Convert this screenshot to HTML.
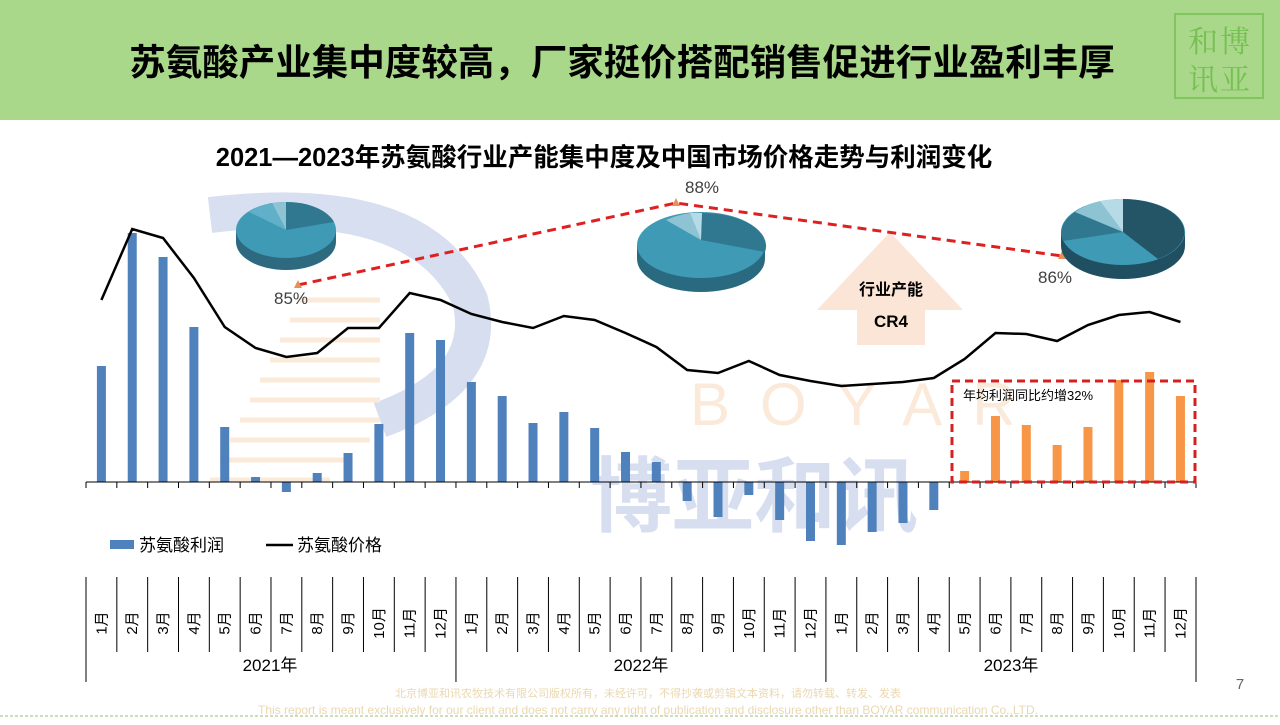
<!DOCTYPE html>
<html><head><meta charset="utf-8"><style>
body{margin:0;width:1280px;height:720px;overflow:hidden;background:#fff;font-family:"Liberation Sans","Noto Sans CJK SC",sans-serif}
</style></head><body>
<svg id="s" width="1280" height="720" xmlns="http://www.w3.org/2000/svg" font-family="Liberation Sans, Noto Sans CJK SC, sans-serif">
<rect x="0" y="0" width="1280" height="120" fill="#a9d88b"/>
<text x="622" y="75" font-size="36.5" font-weight="bold" text-anchor="middle" fill="#000">苏氨酸产业集中度较高，厂家挺价搭配销售促进行业盈利丰厚</text>
<g opacity="0.9">
<rect x="1175" y="14" width="88" height="84" fill="none" stroke="#7cc35a" stroke-width="2"/>
<text x="1218" y="52" font-size="30" fill="#72bd4e" text-anchor="end" font-family="Noto Serif CJK SC, serif">和</text>
<text x="1220" y="52" font-size="30" fill="#72bd4e" font-family="Noto Serif CJK SC, serif">博</text>
<text x="1218" y="90" font-size="30" fill="#72bd4e" text-anchor="end" font-family="Noto Serif CJK SC, serif">讯</text>
<text x="1220" y="90" font-size="30" fill="#72bd4e" font-family="Noto Serif CJK SC, serif">亚</text>
</g>
<text x="604" y="166" font-size="25.5" font-weight="bold" text-anchor="middle" fill="#000">2021—2023年苏氨酸行业产能集中度及中国市场价格走势与利润变化</text>
<!-- watermark -->
<g opacity="0.28">
<path d="M210 215 Q420 190 470 300 Q490 380 380 420" fill="none" stroke="#6f8cc8" stroke-width="36"/>
<g stroke="#f4b27a" stroke-width="5">
<line x1="300" y1="300" x2="380" y2="300"/><line x1="290" y1="320" x2="380" y2="320"/><line x1="280" y1="340" x2="380" y2="340"/><line x1="270" y1="360" x2="380" y2="360"/><line x1="260" y1="380" x2="380" y2="380"/><line x1="250" y1="400" x2="380" y2="400"/><line x1="240" y1="420" x2="380" y2="420"/><line x1="230" y1="440" x2="370" y2="440"/><line x1="220" y1="460" x2="350" y2="460"/><line x1="210" y1="480" x2="330" y2="480"/>
</g>
<text x="690" y="425" font-size="60" fill="#f4b27a" letter-spacing="30">BOYAR</text>
<text x="590" y="525" font-size="82" font-weight="bold" fill="#6f8cc8">博亚和讯</text>
</g>
<!-- arrow -->
<polygon points="890,232 963,310 925,310 925,345 857,345 857,310 817,310" fill="#fbe5d6"/>
<text x="891" y="295" font-size="16" font-weight="bold" text-anchor="middle">行业产能</text>
<text x="891" y="327" font-size="17" font-weight="bold" text-anchor="middle">CR4</text>
<!-- dashed CR4 -->
<polyline points="298,285 676,203 1062,256" fill="none" stroke="#e02020" stroke-width="3" stroke-dasharray="9,6"/>
<polygon points="298,280 294,288 302,288" fill="#e8905a"/>
<polygon points="676,198 672,206 680,206" fill="#e8905a"/>
<polygon points="1062,251 1058,259 1066,259" fill="#e8905a"/>
<text x="291" y="304" font-size="17" fill="#404040" text-anchor="middle">85%</text>
<text x="702" y="193" font-size="17" fill="#404040" text-anchor="middle">88%</text>
<text x="1055" y="283" font-size="17" fill="#404040" text-anchor="middle">86%</text>
<!-- pies -->
<g>
<path d="M236 230 v12 a50 28 0 0 0 100 0 v-12 z" fill="#2d6a80"/>
<ellipse cx="286" cy="230" rx="50" ry="28" fill="#3f9ab5"/>
<path d="M286 230 L286 202 A50 28 0 0 1 334 222 Z" fill="#2f7890"/>
<path d="M286 230 L272 203 A50 28 0 0 1 286 202 Z" fill="#8ec3d4"/>
<path d="M286 230 L249 212 A50 28 0 0 1 272 203 Z" fill="#5fb0c8"/>
</g>
<g>
<path d="M637 245 v14 a64 33 0 0 0 128 0 v-14 z" fill="#2a6a80"/>
<ellipse cx="701" cy="245" rx="64" ry="33" fill="#3f9ab5"/>
<path d="M701 240 L702 213 A64 33 0 0 1 765 252 Z" fill="#2f7890"/>
<path d="M701 240 L666 220 A64 33 0 0 1 690 213 Z" fill="#8ec3d4"/>
<path d="M701 240 L690 213 A64 33 0 0 1 702 213 Z" fill="#b7dbe6"/>
</g>
<g>
<path d="M1061 232 v14 a62 33 0 0 0 124 0 v-14 z" fill="#1f4f60"/>
<ellipse cx="1123" cy="232" rx="62" ry="33" fill="#3f9ab5"/>
<path d="M1123 232 L1123 199 A62 33 0 0 1 1158 259 Z" fill="#235566"/>
<path d="M1123 232 L1063 241 A62 33 0 0 1 1075 212 Z" fill="#2f7890"/>
<path d="M1123 232 L1075 212 A62 33 0 0 1 1100 201 Z" fill="#8ec3d4"/>
<path d="M1123 232 L1100 201 A62 33 0 0 1 1123 199 Z" fill="#b7dbe6"/>
</g>
<g id="bars"></g>
<line x1="86" y1="482" x2="1196" y2="482" stroke="#000" stroke-width="1"/>
<g id="ticks" stroke="#000"></g>
<polyline id="line" fill="none" stroke="#000" stroke-width="2.5"/>
<rect x="952" y="381" width="243" height="101" fill="none" stroke="#d42020" stroke-width="3" stroke-dasharray="8,5"/>
<text x="963" y="400" font-size="13" fill="#000">年均利润同比约增32%</text>
<!-- legend -->
<rect x="110" y="540" width="24" height="9" fill="#4f81bd"/>
<text x="139" y="551" font-size="17">苏氨酸利润</text>
<line x1="266" y1="545" x2="293" y2="545" stroke="#000" stroke-width="2.5"/>
<text x="297" y="551" font-size="17">苏氨酸价格</text>
<g id="cats" font-size="15"></g>
<text x="270" y="671" font-size="17" text-anchor="middle">2021年</text>
<text x="641" y="671" font-size="17" text-anchor="middle">2022年</text>
<text x="1011" y="671" font-size="17" text-anchor="middle">2023年</text>
<text x="1240" y="689" font-size="15" fill="#666" text-anchor="middle">7</text>
<text x="648" y="697" font-size="11" fill="#ead8b0" text-anchor="middle">北京博亚和讯农牧技术有限公司版权所有，未经许可，不得抄袭或剪辑文本资料，请勿转载、转发、发表</text>
<text x="648" y="714" font-size="12" fill="#ead8b0" text-anchor="middle">This report is meant exclusively for our client and does not carry any right of publication and disclosure other than BOYAR communication Co.,LTD.</text>
<line x1="0" y1="716" x2="1280" y2="716" stroke="#9bbf6a" stroke-dasharray="3,2"/>
</svg>
<script>
var ns="http://www.w3.org/2000/svg",s=document.getElementById('s');
var tops=[366,233,257,327,427,477,492,473,453,424,333,340,382,396,423,412,428,452,462,501,517,495,520,541,545,532,523,510,471,416,425,445,427,380,372,396];
var ln=[300,229,238,278,327,348,357,353,328,328,293,300,314,322,328,316,320,333,347,370,373,361,375,381,386,384,382,378,359,333,334,341,325,315,312,322];
var B=document.getElementById('bars'),T=document.getElementById('ticks'),C=document.getElementById('cats');
function el(t,a,p){var e=document.createElementNS(ns,t);for(var k in a)e.setAttribute(k,a[k]);p.appendChild(e);return e;}
var pts=[];
for(var i=0;i<36;i++){var cx=101.4+i*30.83,t=tops[i];
el('rect',{x:cx-4.5,y:Math.min(t,482),width:9,height:Math.abs(482-t),fill:i>=28?'#f79646':'#4f81bd'},B);
pts.push(cx+','+ln[i]);
var tx=86+i*30.83;el('line',{x1:tx,y1:482,x2:tx,y2:488},T);
el('line',{x1:tx,y1:577,x2:tx,y2:i%12==0?682:652,'stroke-width':1},T);
var tt=el('text',{x:0,y:0,transform:'translate('+(cx+5)+',623) rotate(-90)','text-anchor':'middle'},C);tt.textContent=(i%12+1)+'月';}
el('line',{x1:1196,y1:482,x2:1196,y2:488},T);el('line',{x1:1196,y1:577,x2:1196,y2:682},T);
document.getElementById('line').setAttribute('points',pts.join(' '));
</script>
</body></html>
